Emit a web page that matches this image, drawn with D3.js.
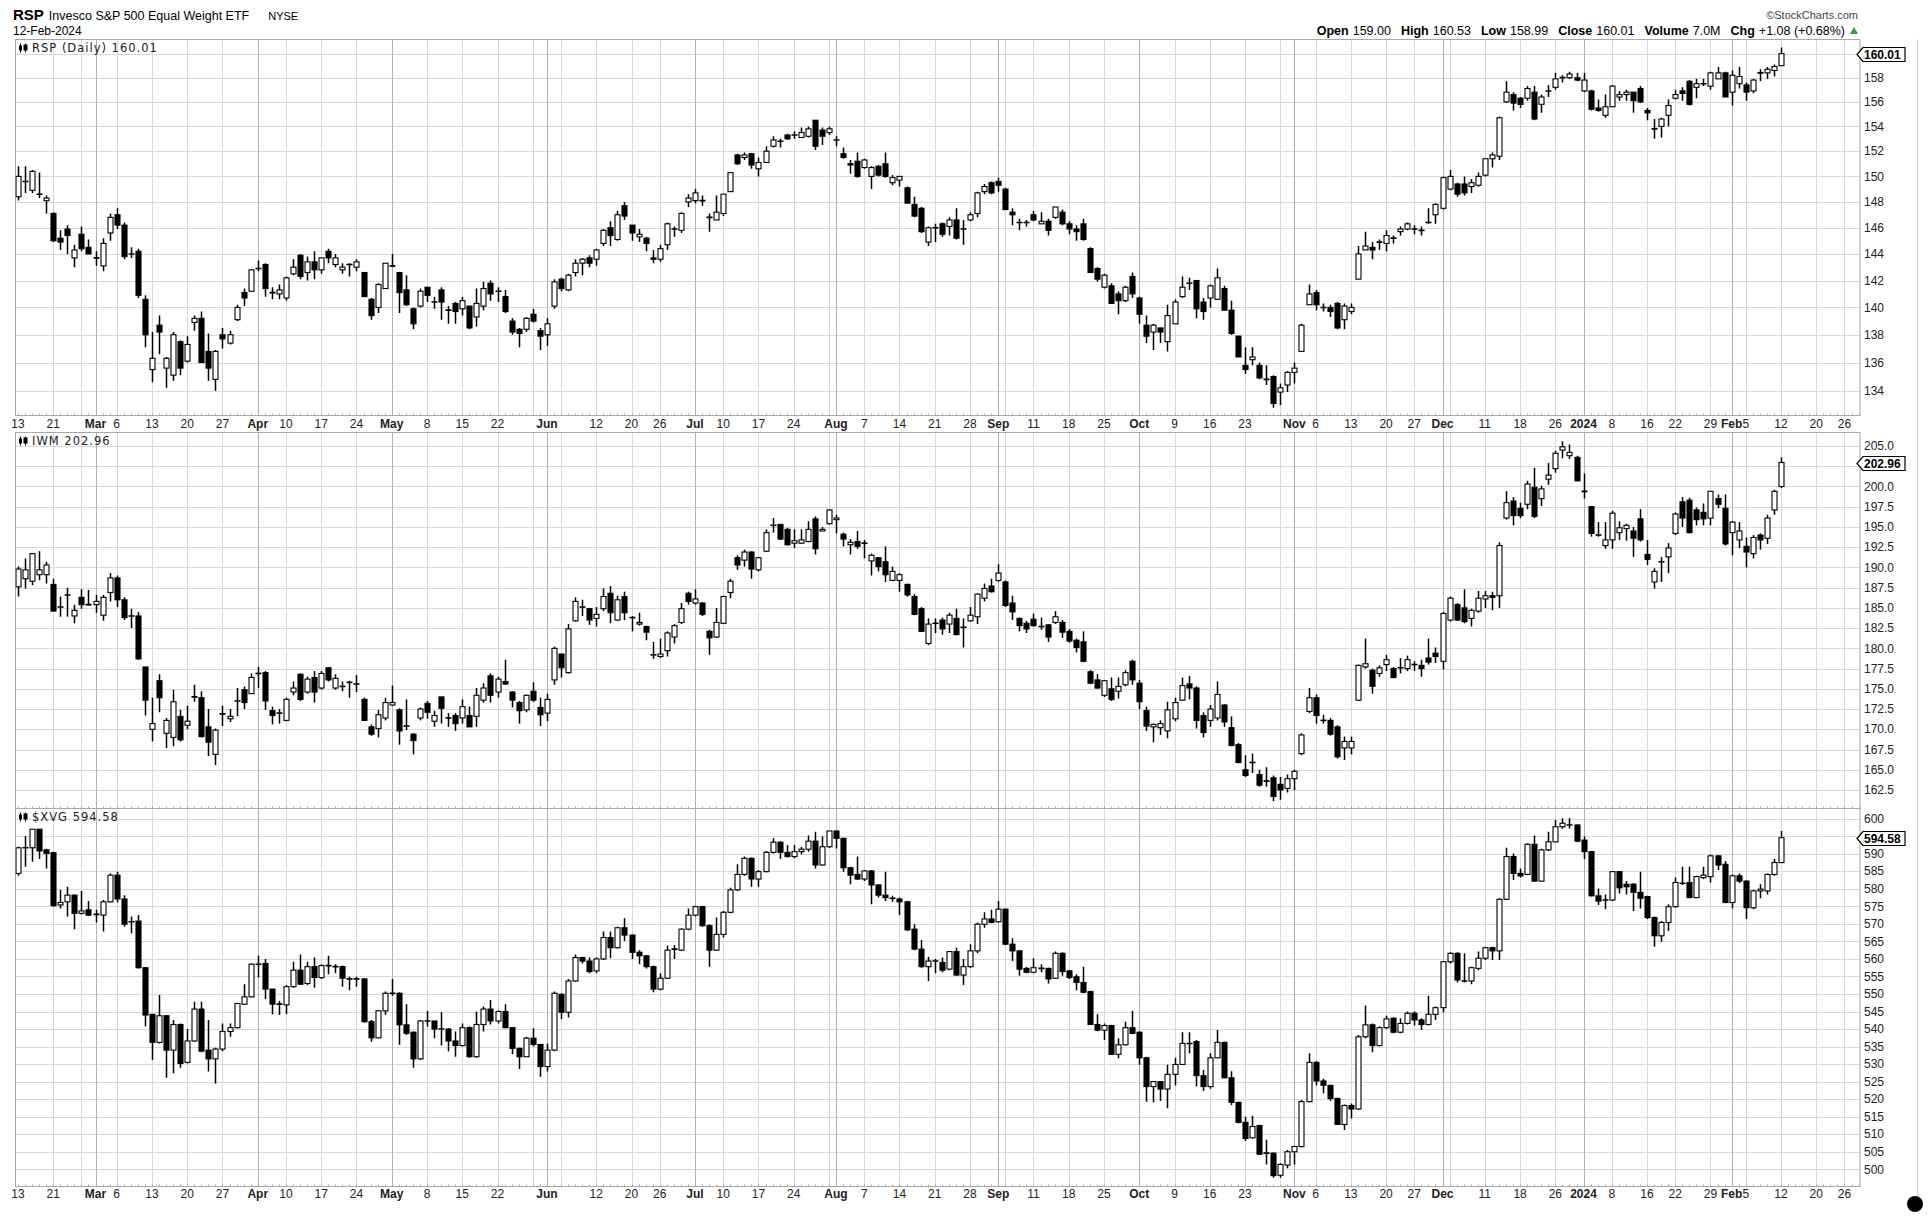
<!DOCTYPE html>
<html><head><meta charset="utf-8">
<script src="https://cdn.jsdelivr.net/npm/d3@7/dist/d3.min.js"></script>
<style>body{margin:0;background:#fff}svg{display:block}</style>
</head><body>
<svg id="chart" width="1928" height="1218"></svg>
<script>
// ---------- calendar ----------
const startDate = "2023-02-13";
const endDate = "2024-02-28";
const holidays = ["2023-02-20","2023-04-07","2023-05-29","2023-06-19","2023-07-04","2023-09-04","2023-11-23","2023-12-25","2024-01-01","2024-01-15","2024-02-19"];

// x-axis tick labels [date, text]
const xLabels = [["2023-02-13","13"],["2023-02-21","21"],["2023-03-01","Mar"],["2023-03-06","6"],["2023-03-13","13"],["2023-03-20","20"],["2023-03-27","27"],["2023-04-03","Apr"],["2023-04-10","10"],["2023-04-17","17"],["2023-04-24","24"],["2023-05-01","May"],["2023-05-08","8"],["2023-05-15","15"],["2023-05-22","22"],["2023-06-01","Jun"],["2023-06-12","12"],["2023-06-20","20"],["2023-06-26","26"],["2023-07-03","Jul"],["2023-07-10","10"],["2023-07-17","17"],["2023-07-24","24"],["2023-08-01","Aug"],["2023-08-07","7"],["2023-08-14","14"],["2023-08-21","21"],["2023-08-28","28"],["2023-09-01","Sep"],["2023-09-11","11"],["2023-09-18","18"],["2023-09-25","25"],["2023-10-02","Oct"],["2023-10-09","9"],["2023-10-16","16"],["2023-10-23","23"],["2023-11-01","Nov"],["2023-11-06","6"],["2023-11-13","13"],["2023-11-20","20"],["2023-11-27","27"],["2023-12-01","Dec"],["2023-12-11","11"],["2023-12-18","18"],["2023-12-26","26"],["2024-01-02","2024"],["2024-01-08","8"],["2024-01-16","16"],["2024-01-22","22"],["2024-01-29","29"],["2024-02-01","Feb"],["2024-02-05","5"],["2024-02-12","12"],["2024-02-20","20"],["2024-02-26","26"]];

// ---------- data: [open, high, low, close] per trading day from 13-Feb-2023 ----------
const rspOHLC = [
[148.4,150.8,148.1,150.0],[149.6,150.8,148.7,149.6],[148.9,150.5,148.7,150.4],[148.6,150.3,148.3,148.6],[148.1,148.5,147.1,148.3],
[147.1,147.2,144.9,145.0],[145.2,145.8,144.3,144.9],[145.9,146.2,144.0,145.4],[143.7,144.7,143.0,144.3],[145.5,146.1,144.2,144.4],
[144.5,145.1,144.0,144.0],[143.7,144.2,143.1,143.7],[143.1,145.2,142.7,144.8],[145.6,147.1,145.0,146.8],[147.0,147.5,145.9,146.2],
[146.2,146.4,143.6,143.8],[144.0,144.5,143.7,144.0],[144.2,144.4,140.7,140.9],[140.6,140.9,137.1,138.0],[135.5,138.2,134.6,136.3],
[138.7,139.4,136.6,138.2],[135.6,136.4,134.2,136.3],[135.1,138.2,134.7,138.0],[137.5,137.6,135.1,135.6],[136.1,137.9,136.0,137.3],
[138.9,139.4,138.3,139.2],[139.2,139.7,136.0,136.0],[136.8,138.1,134.7,135.6],[134.8,136.9,134.0,136.8],[138.0,138.5,137.0,137.7],
[137.4,138.3,137.3,138.0],[139.1,140.2,139.0,140.0],[141.1,141.4,140.1,140.7],[141.2,142.8,141.2,142.8],[142.9,143.5,142.7,142.9],
[143.2,143.3,140.8,141.4],[141.1,141.5,140.6,141.1],[141.0,141.7,140.6,141.3],[140.7,142.3,140.5,142.2],[142.5,143.6,142.4,143.0],
[143.9,144.0,142.1,142.3],[142.6,143.8,142.0,143.4],[143.4,144.2,142.1,142.8],[142.8,143.7,142.5,143.7],[144.2,144.4,143.3,143.7],
[143.2,144.0,143.0,143.7],[142.8,143.3,142.5,143.0],[143.2,143.3,142.3,143.2],[143.0,143.6,142.7,143.4],[142.6,142.6,140.8,140.8],
[140.6,140.7,139.1,139.4],[140.0,141.8,139.6,141.7],[141.4,143.3,141.4,143.3],[143.1,144.0,143.0,143.1],[142.6,142.6,139.6,141.1],
[141.3,142.4,140.1,140.2],[139.9,140.0,138.4,138.8],[140.1,141.4,140.0,141.2],[141.5,141.5,140.4,140.9],[140.4,140.8,139.9,140.4],
[141.3,141.5,139.1,140.4],[139.8,140.1,138.8,139.8],[140.3,140.4,138.8,139.7],[139.9,140.8,139.4,140.5],[140.1,140.1,138.4,138.5],
[139.3,141.4,138.6,140.3],[140.1,141.9,139.8,141.4],[141.8,142.0,140.5,141.0],[141.2,141.5,140.4,141.2],[140.8,141.3,139.6,139.7],
[139.0,139.2,138.0,138.2],[138.4,138.5,137.1,138.1],[138.4,139.3,138.2,139.2],[139.5,139.9,138.9,139.0],[138.3,138.5,136.9,137.9],
[138.0,139.2,137.2,138.8],[140.1,142.1,139.9,141.9],[142.1,142.2,141.2,141.4],[141.3,142.5,141.2,142.4],[142.6,143.6,142.3,143.3],
[143.3,143.7,142.4,143.6],[143.7,143.9,143.0,143.3],[143.6,144.4,143.1,144.3],[144.8,145.9,144.6,145.8],[146.0,146.5,144.6,145.4],
[145.1,147.3,145.0,147.0],[147.7,148.0,146.6,146.9],[146.2,146.2,145.0,145.6],[145.3,145.9,144.9,145.5],[145.2,145.3,144.2,144.8],
[143.7,144.3,143.3,143.6],[143.6,144.7,143.4,144.4],[144.7,146.4,144.3,146.3],[145.9,146.1,145.3,145.9],[145.8,147.2,145.6,147.1],
[148.0,148.6,147.6,148.3],[148.1,149.0,147.9,148.7],[148.1,148.5,147.7,148.1],[146.8,147.1,145.7,146.8],[146.6,148.5,146.6,147.2],
[147.1,148.6,146.9,148.6],[148.8,150.3,148.8,150.3],[151.7,151.8,150.9,151.0],[151.5,151.9,151.3,151.7],[151.8,151.8,150.6,150.9],
[150.6,151.5,150.0,151.1],[151.1,152.4,151.1,152.0],[152.4,153.2,152.3,152.9],[152.8,153.0,152.3,152.8],[153.3,153.4,152.9,153.0],
[153.3,153.6,153.0,153.3],[153.1,153.9,153.1,153.5],[153.2,154.0,153.1,153.8],[154.5,154.5,152.1,152.4],[153.7,153.9,152.5,153.2],
[153.5,154.0,153.3,153.8],[152.9,153.2,152.4,152.9],[151.8,152.3,151.4,151.5],[151.0,151.3,150.2,150.9],[151.2,151.9,149.9,150.0],
[150.7,151.4,150.6,151.3],[150.0,150.8,149.0,150.7],[150.8,150.9,150.0,150.1],[151.0,151.9,149.9,150.0],[149.5,150.1,149.3,149.9],
[149.7,150.0,149.2,150.0],[149.1,149.2,147.9,147.9],[147.8,148.4,146.8,146.9],[147.5,147.6,145.6,145.7],[144.9,146.1,144.6,146.0],
[146.0,146.3,144.9,146.0],[146.3,146.4,145.3,145.5],[146.1,146.8,145.4,146.6],[146.6,147.5,145.1,145.2],[145.9,146.6,144.7,145.9],
[146.6,147.2,146.5,147.0],[147.1,148.8,146.8,148.7],[148.8,149.4,148.6,149.2],[149.5,149.6,148.6,148.7],[149.6,149.9,148.8,149.3],
[149.0,149.1,147.4,147.4],[147.2,147.5,146.2,147.0],[146.4,146.7,145.8,146.4],[146.4,146.6,146.1,146.4],[147.0,147.3,146.5,146.6],
[146.3,147.2,146.3,146.5],[146.5,146.7,145.4,145.8],[146.8,147.6,146.7,147.6],[147.2,147.4,146.2,146.3],[146.3,146.5,145.5,145.9],
[145.9,146.2,145.0,145.7],[146.3,146.7,145.0,145.1],[144.4,144.5,142.6,142.6],[142.9,143.0,141.9,142.1],[141.5,142.5,141.4,142.4],
[141.6,141.8,140.3,140.3],[141.0,141.2,139.5,140.5],[140.5,141.6,140.4,141.5],[142.3,142.6,140.7,141.0],[140.7,140.8,138.8,139.5],
[138.7,139.4,137.4,137.9],[138.2,138.8,136.9,138.7],[138.5,138.5,137.4,138.2],[137.5,140.2,136.8,139.4],[138.8,140.6,138.8,140.4],
[140.8,142.3,140.7,141.5],[141.8,142.2,141.3,141.8],[142.0,142.0,139.2,139.9],[140.4,140.7,139.1,139.7],[140.7,141.7,140.0,141.6],
[140.6,142.9,140.6,142.2],[141.4,141.6,139.8,139.8],[139.8,140.5,138.0,138.1],[137.9,137.9,136.4,136.4],[135.8,137.1,135.2,135.5],
[136.2,137.1,135.8,136.4],[135.8,136.0,134.8,134.9],[134.8,135.8,134.4,134.8],[135.0,135.1,132.8,133.1],[133.9,134.5,133.0,134.2],
[134.4,135.4,133.9,135.3],[135.3,136.0,134.5,135.6],[136.8,138.8,136.8,138.7],[140.2,141.7,140.2,141.0],[141.1,141.3,139.8,140.2],
[140.0,140.3,139.7,140.0],[140.0,140.2,139.3,139.7],[140.3,140.4,138.4,138.5],[139.1,140.3,138.4,140.1],[139.7,140.3,139.5,140.0],
[142.1,144.6,142.1,144.0],[144.3,145.7,144.3,144.6],[144.5,144.9,143.6,144.3],[144.9,145.1,144.3,144.9],[144.8,145.8,144.2,145.4],
[145.2,145.4,144.8,145.2],[145.7,146.1,145.4,145.9],[145.9,146.4,145.8,146.3],[145.9,146.2,145.5,145.9],[145.8,146.1,145.4,145.8],
[146.4,147.5,146.3,146.4],[147.0,147.9,146.3,147.8],[147.5,150.0,147.4,149.9],[149.0,150.5,148.9,150.0],[149.4,149.5,148.4,148.6],
[149.4,150.0,148.5,148.7],[149.2,149.8,148.7,149.5],[149.3,150.3,149.2,150.0],[150.1,151.4,150.0,151.4],[151.4,151.9,150.7,151.7],
[151.6,154.8,151.3,154.7],[156.0,157.7,155.9,156.8],[156.6,156.8,155.3,155.9],[156.3,156.4,155.5,155.8],[156.3,157.3,156.1,157.1],
[156.8,157.3,154.5,154.6],[155.8,156.6,155.1,156.4],[156.9,157.4,156.4,156.9],[157.2,158.4,157.0,157.9],[158.0,158.2,157.6,158.0],
[158.0,158.5,157.9,158.3],[158.0,158.4,157.7,157.8],[156.9,158.4,156.8,157.8],[156.9,157.0,155.3,155.4],[155.5,156.2,155.2,155.3],
[154.9,156.6,154.7,155.6],[155.6,157.4,155.6,157.3],[156.4,156.9,156.1,156.6],[156.6,157.0,156.1,156.8],[156.8,156.8,155.1,156.1],
[157.1,157.3,155.9,156.0],[155.3,155.5,154.5,155.1],[153.8,154.6,153.0,153.8],[154.0,154.7,153.1,154.6],[154.9,156.2,154.0,155.7],
[156.3,157.0,156.2,156.6],[156.9,157.2,156.1,156.7],[157.7,157.8,155.7,155.8],[157.2,157.9,156.3,157.5],[157.5,157.9,157.3,157.5],
[157.3,158.5,157.0,158.4],[157.9,158.9,157.9,158.4],[158.4,158.5,156.4,156.4],[156.8,158.6,155.7,158.2],[157.5,158.9,157.1,158.1],
[157.4,157.6,156.1,156.8],[156.9,157.9,156.7,157.8],[158.4,158.7,157.7,158.4],[158.4,158.9,157.9,158.7],[158.6,159.1,158.1,158.93],
[159.00,160.53,158.99,160.01]];

const iwmOHLC = [
[187.6,190.1,186.4,189.8],[188.6,191.1,187.4,189.7],[188.3,191.7,187.8,191.7],[189.1,192.0,188.4,189.7],[189.1,190.7,188.0,190.3],
[187.9,188.6,184.6,184.6],[185.1,186.4,183.9,185.1],[186.6,187.5,183.9,186.6],[184.0,185.4,183.1,184.7],[186.3,187.3,184.9,185.4],
[185.4,187.2,185.3,185.4],[185.4,186.6,184.4,185.8],[184.1,186.6,183.4,186.3],[186.9,189.3,185.8,188.7],[188.7,189.0,185.1,186.0],
[186.0,186.3,183.5,183.8],[184.0,184.9,182.5,184.0],[184.0,184.5,178.6,178.7],[177.7,177.7,171.7,173.6],[170.0,173.9,168.5,170.7],
[176.0,176.8,172.1,173.9],[169.5,171.4,167.7,171.1],[169.0,174.9,167.9,173.4],[171.6,172.4,168.5,168.7],[170.5,172.9,170.0,171.0],
[174.0,175.5,173.4,174.0],[173.9,174.7,169.0,169.1],[170.3,172.5,166.7,168.4],[166.9,170.1,165.6,169.9],[171.9,172.9,170.4,171.9],
[171.3,172.5,170.9,171.6],[173.5,175.1,171.6,173.5],[174.9,175.3,172.5,173.3],[174.4,176.9,174.4,176.4],[176.9,177.7,175.1,176.9],
[177.0,177.2,172.4,173.5],[172.3,172.8,170.6,171.7],[172.0,172.5,170.7,172.0],[171.1,173.9,171.0,173.7],[174.6,175.9,174.2,175.1],
[176.8,176.9,173.5,173.7],[174.6,176.5,174.4,176.2],[176.4,177.2,173.3,174.6],[175.1,177.2,174.9,176.9],[177.6,177.7,175.9,176.1],
[175.1,176.8,174.9,176.3],[175.3,175.9,174.7,175.3],[175.8,176.0,173.9,175.8],[175.6,176.7,174.6,175.6],[173.7,173.9,171.0,171.1],
[170.3,170.6,169.2,169.4],[170.1,172.4,169.0,171.8],[171.4,173.9,171.1,173.3],[173.0,175.4,172.9,173.3],[172.4,172.6,168.1,169.8],
[170.4,173.7,169.9,170.4],[169.4,169.5,166.9,168.6],[171.4,172.7,171.1,172.5],[173.2,173.5,171.3,172.1],[171.0,172.3,170.3,171.7],
[174.0,174.0,170.7,172.6],[171.4,172.0,170.3,171.4],[171.7,172.0,169.8,170.7],[171.4,173.7,170.7,172.8],[171.7,172.8,170.3,170.3],
[171.6,175.1,170.3,174.2],[173.6,175.7,173.3,175.1],[176.6,176.9,173.3,174.2],[174.6,176.5,173.9,176.2],[175.9,178.6,175.5,175.6],
[174.6,174.7,172.7,173.6],[173.3,173.5,170.7,172.3],[172.4,174.3,172.1,174.2],[174.7,175.8,173.4,173.6],[172.7,173.9,170.4,171.8],
[172.0,174.4,171.0,173.7],[176.1,180.2,175.5,180.0],[179.3,179.3,176.4,177.6],[177.0,183.0,176.9,182.4],[183.4,186.3,183.3,185.8],
[185.1,186.0,184.0,185.1],[184.9,185.0,182.9,183.5],[183.7,185.1,182.7,184.2],[184.9,187.4,184.6,186.4],[186.8,187.7,183.1,184.4],
[183.5,186.5,183.4,186.0],[186.4,187.0,183.5,184.4],[183.8,184.0,182.1,183.8],[183.0,184.4,182.8,183.2],[182.7,182.8,181.0,182.0],
[179.2,180.8,178.7,179.2],[179.0,181.2,178.8,179.3],[179.7,182.1,179.0,181.9],[181.4,183.0,180.6,182.8],[183.2,185.6,183.0,184.9],
[186.8,187.0,185.4,185.8],[185.6,187.3,185.4,186.1],[185.6,185.7,184.0,184.2],[182.1,182.3,179.2,181.3],[181.4,185.0,181.3,183.2],
[183.1,186.5,183.0,186.4],[186.9,188.6,186.2,188.3],[191.2,191.5,189.7,190.3],[190.9,192.2,190.1,191.9],[191.9,192.0,188.6,189.8],
[189.7,191.3,189.5,191.2],[192.0,194.7,191.9,194.3],[195.2,196.1,194.3,195.2],[195.3,195.4,193.4,193.5],[194.7,194.9,192.7,192.8],
[193.0,194.7,192.4,193.3],[193.0,194.7,192.9,193.4],[193.2,195.7,193.1,194.7],[196.0,196.3,191.6,192.3],[194.5,195.0,194.5,194.7],
[195.4,197.2,195.3,197.1],[195.9,196.5,194.2,196.1],[194.1,194.3,192.6,193.5],[192.8,193.5,191.6,193.1],[193.2,194.5,192.3,192.6],
[193.0,193.4,191.1,193.0],[190.8,191.7,189.0,191.5],[191.2,191.3,189.5,190.1],[190.7,192.6,188.2,189.1],[188.4,190.1,188.3,189.5],
[188.4,189.3,187.0,189.1],[187.9,188.0,186.4,186.6],[186.4,186.7,184.1,184.2],[184.9,185.1,182.1,182.1],[180.6,183.7,180.4,183.0],
[183.1,183.7,181.9,183.1],[183.5,183.8,181.7,182.4],[183.0,184.4,181.9,184.1],[183.7,184.9,181.6,181.7],[182.6,183.7,180.1,182.6],
[183.4,185.1,183.3,184.1],[183.9,186.8,183.0,186.7],[186.2,188.0,185.8,187.4],[187.7,188.6,186.9,187.0],[188.4,190.4,188.2,189.3],
[188.2,188.4,185.1,185.3],[185.6,186.5,183.5,184.5],[183.7,183.8,182.1,182.8],[183.1,183.4,181.9,182.4],[183.6,184.3,182.7,182.8],
[182.7,183.8,182.3,182.7],[182.9,183.0,180.8,181.4],[183.2,184.6,183.0,183.9],[183.2,183.5,181.3,182.0],[182.1,182.4,180.7,180.9],
[181.0,181.2,179.5,180.1],[180.8,182.1,178.3,178.4],[177.1,177.3,175.6,175.7],[176.1,176.8,175.0,175.1],[174.2,176.1,174.0,176.0],
[175.0,176.4,173.5,173.7],[174.7,176.4,173.8,175.3],[175.5,177.3,175.3,177.0],[178.4,178.6,175.5,176.1],[175.7,176.1,172.5,173.4],
[172.3,172.8,169.8,170.4],[170.3,170.7,168.4,170.6],[170.2,171.1,169.3,170.7],[169.8,173.4,168.9,172.4],[171.3,173.9,171.0,173.3],
[173.6,176.4,173.5,175.4],[175.6,176.6,173.7,175.1],[175.1,175.3,170.1,171.1],[171.7,172.1,169.0,169.6],[171.1,173.0,170.3,172.5],
[171.4,175.9,171.1,174.3],[173.0,173.1,170.3,170.9],[170.2,171.6,167.9,168.0],[168.1,168.3,165.8,165.9],[165.0,166.8,164.1,164.3],
[165.9,167.0,164.6,165.9],[164.4,165.0,162.9,163.1],[163.6,165.3,162.9,163.6],[164.0,164.3,161.1,161.7],[163.2,164.1,161.3,162.5],
[162.7,164.4,162.2,163.9],[163.9,165.0,162.5,164.8],[167.0,169.5,166.8,169.3],[172.2,175.1,172.0,173.9],[173.9,174.3,170.7,171.7],
[171.1,171.8,170.7,171.1],[171.1,171.4,169.2,169.4],[170.3,170.5,166.4,166.6],[167.7,169.1,166.2,168.5],[167.7,169.1,166.9,168.5],
[173.6,178.0,173.5,177.9],[177.7,181.2,177.5,178.1],[177.3,177.5,174.4,175.3],[176.9,177.9,176.5,177.6],[178.0,179.2,177.2,178.6],
[177.5,177.7,176.3,176.4],[177.6,178.8,176.9,177.6],[177.5,179.1,177.2,178.6],[178.0,178.4,177.2,178.0],[177.9,178.6,176.5,177.5],
[178.8,181.2,178.0,178.3],[179.4,180.1,178.2,179.0],[178.4,184.5,177.4,184.3],[183.5,186.4,183.3,186.2],[185.4,185.6,183.4,183.5],
[185.0,187.3,183.1,183.3],[183.7,184.9,182.7,184.7],[184.6,187.1,184.4,186.2],[186.1,187.1,185.0,186.5],[186.5,187.0,184.7,186.3],
[186.5,193.1,185.0,192.7],[196.1,199.4,195.9,198.0],[198.2,198.7,195.2,196.4],[197.3,198.0,196.1,196.4],[197.8,200.7,197.2,200.3],
[199.9,202.3,196.1,196.3],[198.5,200.1,197.6,199.7],[200.9,202.9,200.2,201.4],[202.2,204.4,201.7,204.1],[204.5,205.6,203.5,204.9],
[203.8,205.2,203.4,204.2],[203.6,203.8,200.6,200.7],[199.4,201.6,198.5,199.4],[197.5,197.6,193.8,194.2],[194.0,195.6,193.8,194.0],
[192.7,195.6,192.3,193.4],[193.4,197.0,192.3,196.7],[194.3,195.7,193.4,194.9],[194.8,195.4,193.3,195.2],[194.5,195.0,191.3,193.6],
[196.0,197.2,193.2,193.4],[191.6,193.4,190.3,191.0],[188.2,189.9,187.4,189.5],[190.7,191.3,188.2,190.7],[191.3,193.0,189.3,192.4],
[194.2,196.8,194.0,196.6],[198.1,198.7,195.0,196.1],[198.3,198.6,194.2,194.3],[197.1,197.4,195.2,195.9],[196.8,197.9,195.2,196.0],
[196.1,199.4,195.2,199.4],[198.5,199.0,197.3,197.8],[197.3,199.0,192.7,192.9],[194.3,195.7,191.5,195.6],[193.4,195.6,192.4,194.5],
[192.6,193.7,190.0,191.9],[191.7,194.0,191.1,193.7],[194.0,194.2,192.2,193.4],[193.6,196.5,192.9,196.1],[197.1,199.6,196.5,199.4],
[200.0,203.6,199.8,202.96]];

const xvgOHLC = [
[584.4,592.0,583.7,591.7],[591.7,595.0,586.3,591.7],[591.7,597.0,587.7,597.0],[597.0,597.0,588.5,590.8],[591.1,591.4,585.8,590.1],
[590.3,590.6,574.9,575.2],[575.4,579.7,574.4,576.1],[576.3,580.6,572.1,578.2],[578.2,578.4,568.5,573.0],[573.0,579.4,572.7,573.7],
[574.0,576.5,572.3,572.5],[572.7,574.0,570.4,572.7],[572.5,576.8,567.8,576.3],[576.3,584.4,576.1,583.9],[583.9,584.9,576.1,577.1],
[577.1,578.2,569.2,569.9],[570.6,572.1,567.3,570.6],[570.8,572.5,557.3,557.5],[557.5,557.5,540.7,544.0],[544.2,544.2,531.2,536.2],
[536.2,549.7,535.9,543.8],[543.8,544.0,526.1,534.0],[534.0,542.6,527.4,541.3],[541.3,541.6,529.0,530.2],[530.5,540.0,530.2,536.6],
[536.6,547.8,536.4,545.7],[545.7,547.8,533.4,533.7],[534.0,542.6,527.9,531.5],[531.5,534.7,524.5,534.3],[534.3,541.6,533.7,539.3],
[539.3,541.6,537.8,540.4],[540.4,547.3,540.2,547.3],[547.1,552.8,546.9,549.2],[549.2,558.7,549.0,558.5],[558.5,560.9,554.7,558.5],
[558.7,560.0,548.6,551.4],[551.4,551.4,544.2,547.1],[547.1,548.0,544.0,547.1],[546.9,552.6,544.2,552.1],[552.1,559.2,551.8,556.8],
[556.8,561.3,552.6,552.8],[553.0,559.2,552.6,557.8],[557.8,560.4,551.8,554.7],[554.7,558.5,554.3,558.1],[558.1,560.9,555.6,558.1],
[557.8,558.5,555.9,557.8],[557.8,558.1,552.1,554.5],[554.3,554.9,551.1,554.3],[554.3,554.9,552.1,554.3],[554.3,554.5,541.9,542.1],
[542.1,542.6,536.4,537.5],[537.5,545.4,537.4,545.2],[545.2,550.7,544.0,550.2],[550.2,554.3,549.5,550.2],[550.2,550.5,535.5,541.2],
[541.2,547.1,538.3,538.8],[539.1,539.3,529.0,531.5],[531.5,542.6,531.2,542.3],[542.3,545.2,540.7,542.3],[542.3,542.3,537.4,540.0],
[540.0,544.8,535.3,540.0],[540.0,540.2,533.7,536.6],[536.6,539.3,532.1,535.3],[535.3,541.6,535.0,540.4],[540.4,540.7,531.8,532.1],
[532.1,545.0,531.8,541.3],[541.3,546.4,539.3,545.7],[545.7,548.3,541.3,542.3],[542.3,545.4,541.6,545.0],[545.0,547.1,540.2,540.4],
[540.4,540.4,532.8,534.5],[534.5,534.7,528.6,532.1],[532.1,537.8,532.1,537.4],[537.4,540.2,535.0,535.6],[535.6,535.6,526.4,529.3],
[529.3,535.9,527.9,534.0],[534.0,550.7,533.7,550.2],[549.9,550.2,542.9,544.8],[544.8,554.3,543.3,553.7],[553.7,561.3,553.5,560.4],
[560.4,560.6,558.7,559.4],[559.4,560.4,555.9,556.4],[556.6,560.4,555.9,560.0],[560.0,567.8,559.7,566.1],[566.1,567.8,560.2,563.2],
[563.2,569.2,563.0,568.9],[568.9,571.6,565.1,566.8],[566.8,567.0,560.0,561.9],[561.9,562.5,558.5,560.9],[560.9,561.1,557.3,557.8],
[557.8,558.1,550.5,551.4],[551.4,555.9,551.1,554.5],[554.5,563.8,554.3,562.5],[562.8,564.0,560.0,562.8],[562.5,568.7,562.3,568.5],
[568.5,574.4,568.2,572.5],[572.5,575.2,572.1,574.9],[574.9,575.2,569.2,569.5],[569.5,569.9,557.8,562.5],[562.5,571.8,562.3,567.0],
[567.0,573.7,566.1,573.3],[573.3,580.3,573.0,579.7],[579.7,587.0,579.4,584.1],[584.1,589.2,583.7,588.7],[588.7,588.9,580.6,582.8],
[582.8,585.4,580.6,584.9],[584.9,590.8,584.7,590.4],[590.4,594.4,590.1,593.3],[593.3,593.6,588.5,590.4],[590.4,592.5,588.9,589.2],
[589.2,592.5,588.7,590.6],[590.6,592.0,589.8,591.3],[591.3,595.2,590.6,593.6],[593.6,596.3,585.8,586.8],[586.8,594.9,586.6,592.0],
[592.0,596.5,591.7,596.5],[596.5,596.5,591.5,594.4],[594.4,594.6,584.9,586.0],[586.0,586.3,581.3,583.9],[584.1,589.2,582.5,582.8],
[582.8,585.4,582.2,585.1],[585.1,585.4,575.6,581.1],[581.1,581.3,577.5,578.2],[578.2,584.9,576.5,577.5],[577.3,578.0,576.3,577.3],
[577.1,577.5,572.5,576.3],[576.3,576.5,568.0,568.3],[568.5,569.9,562.5,562.8],[562.8,565.4,557.5,557.8],[557.8,560.6,553.7,559.4],
[559.4,560.0,555.9,559.4],[559.0,560.4,556.2,556.8],[557.1,562.3,556.8,562.1],[562.1,563.2,555.2,555.4],[555.4,560.0,552.6,557.8],
[557.8,564.2,557.5,562.3],[562.3,570.4,561.6,569.9],[569.9,573.3,568.9,571.4],[571.4,574.0,570.2,570.4],[570.6,576.5,570.4,574.2],
[574.2,574.4,564.0,564.2],[564.2,565.9,559.4,562.3],[562.3,562.5,555.2,557.1],[557.3,557.8,555.9,556.2],[556.2,560.2,555.9,557.5],
[557.3,558.5,556.2,557.3],[557.3,557.5,553.0,554.3],[554.5,562.1,554.3,561.6],[561.6,561.9,555.2,556.4],[556.6,556.8,554.3,554.7],
[554.9,555.6,551.1,553.3],[553.3,557.8,550.2,550.5],[550.7,550.9,541.2,541.3],[541.3,544.2,539.4,539.7],[539.7,541.6,536.9,541.0],
[541.0,541.2,532.6,532.8],[532.8,537.4,531.7,535.5],[535.5,542.1,535.3,540.4],[540.4,545.2,538.5,538.8],[539.1,539.3,529.8,531.8],
[531.8,532.1,519.3,523.6],[523.6,525.2,519.1,525.0],[525.0,525.2,519.5,522.9],[522.9,529.8,517.4,527.1],[527.1,531.8,523.9,529.9],
[529.9,539.1,529.8,535.9],[535.9,539.1,533.1,535.9],[536.4,536.9,523.6,526.7],[526.7,528.3,522.3,523.6],[523.6,533.1,523.0,531.8],
[531.8,539.7,531.7,536.2],[536.2,536.4,526.0,526.1],[526.1,528.0,518.3,519.1],[519.1,519.3,513.1,513.4],[513.4,515.0,508.1,508.8],
[509.0,515.3,508.8,512.2],[512.5,512.6,504.1,504.3],[504.6,508.4,501.4,504.6],[504.6,504.8,497.6,498.2],[498.3,501.7,497.6,501.4],
[501.2,505.5,500.3,505.0],[505.0,506.7,501.4,506.5],[506.5,519.8,506.2,519.3],[519.3,533.1,519.1,530.5],[530.5,530.9,523.9,525.2],
[525.2,525.8,521.7,524.0],[523.9,524.2,519.5,520.2],[520.2,520.4,512.6,512.8],[512.8,518.5,511.2,518.2],[518.2,518.8,514.5,517.2],
[517.2,538.3,516.9,537.8],[537.8,546.7,537.4,541.2],[541.2,541.6,533.4,535.3],[535.3,540.7,535.0,540.4],[540.4,543.8,540.0,542.9],
[543.1,543.3,538.8,539.1],[539.1,543.1,538.8,541.6],[541.6,545.0,541.3,544.5],[544.5,545.0,541.0,542.6],[542.6,543.1,539.7,541.3],
[541.3,549.5,541.0,544.2],[544.2,546.4,542.6,546.1],[546.1,559.4,544.8,559.2],[559.2,561.9,558.7,561.6],[561.6,561.9,553.3,554.0],
[554.0,561.6,553.3,553.7],[553.7,557.8,552.8,557.5],[557.3,562.1,556.8,560.2],[560.2,563.5,559.7,563.2],[563.2,563.5,559.7,562.3],
[562.3,577.3,559.7,577.0],[577.0,591.7,576.8,589.2],[589.2,590.1,582.5,584.4],[584.4,585.8,583.2,583.7],[584.1,593.0,583.9,592.7],
[592.7,595.2,582.0,582.2],[582.2,591.4,582.0,591.1],[591.1,596.3,590.8,593.4],[593.4,599.6,593.3,597.7],[597.7,600.1,597.1,598.7],
[598.2,600.1,597.2,598.2],[598.2,598.4,593.3,593.6],[593.9,594.9,588.5,590.6],[590.6,590.8,577.8,578.0],[578.0,580.1,575.4,576.5],
[576.8,578.4,574.2,576.8],[576.8,585.1,576.5,584.9],[584.9,585.1,578.7,580.3],[581.3,582.2,578.4,580.6],[581.3,581.6,573.7,579.0],
[579.0,584.9,574.4,577.3],[577.8,578.0,571.4,571.8],[571.8,572.1,563.5,566.6],[566.6,570.8,564.9,570.4],[570.4,575.6,568.0,574.9],
[574.9,583.2,574.6,581.8],[581.8,586.3,581.1,581.6],[581.8,586.3,577.3,577.5],[577.5,583.7,577.3,583.5],[583.2,586.3,582.8,583.9],
[583.5,589.8,581.8,589.4],[589.4,589.6,585.4,586.8],[587.0,587.9,575.9,576.1],[576.1,584.1,574.4,583.7],[583.7,584.4,581.6,582.2],
[582.2,582.5,571.4,574.6],[574.6,579.7,574.2,579.4],[579.4,581.3,577.3,579.9],[579.4,584.4,578.4,584.1],[584.1,588.5,583.7,587.5],
[587.5,596.5,587.3,594.58]];

// y-axis tick values
const rspTicks = [134,136,138,140,142,144,146,148,150,152,154,156,158,160];
const iwmTicks = [162.5,165,167.5,170,172.5,175,177.5,180,182.5,185,187.5,190,192.5,195,197.5,200,202.5,205];
const xvgTicks = [500,505,510,515,520,525,530,535,540,545,550,555,560,565,570,575,580,585,590,595,600];

const headerStats = [["Open","159.00"],["High","160.53"],["Low","158.99"],["Close","160.01"],["Volume","7.0M"],["Chg","+1.08 (+0.68%)"]];

// ---------- build trading-day axis ----------
const hol = new Set(holidays);
const days = [];
for (let d = new Date(startDate+"T00:00:00Z"); d <= new Date(endDate+"T00:00:00Z"); d = new Date(d.getTime()+86400000)) {
  const wd = d.getUTCDay(); const s = d.toISOString().slice(0,10);
  if (wd === 0 || wd === 6 || hol.has(s)) continue;
  days.push(d);
}
const idxOf = new Map(days.map((d,i)=>[d.toISOString().slice(0,10), i]));

const svg = d3.select("#chart");
const FONT = "'Liberation Sans', Arial, sans-serif";
const left = 15.5, right = 1860;
const x = d3.scaleLinear().domain([-0.35, 261.2]).range([left, right]);

const panels = [
  {name:"rsp", data:rspOHLC, top:39.5, bottom:415.5, y:d3.scaleLog().domain([134,158]).range([390.67,77.67]), ticks:rspTicks, fmt:d3.format("d"), label:"RSP (Daily) 160.01", last:"160.01", lastVal:160.01},
  {name:"iwm", data:iwmOHLC, top:432.5, bottom:808.5, y:d3.scaleLinear().domain([162.5,205]).range([790,446]), ticks:iwmTicks, fmt:d3.format(".1f"), label:"IWM 202.96", last:"202.96", lastVal:202.96},
  {name:"xvg", data:xvgOHLC, top:808.5, bottom:1186.5, y:d3.scaleLinear().domain([500,600]).range([1169.3,818.7]), ticks:xvgTicks, fmt:d3.format("d"), label:"$XVG 594.58", last:"594.58", lastVal:594.58}
];

// outer right frame line
svg.append("line").attr("x1",1917.5).attr("x2",1917.5).attr("y1",39).attr("y2",1205).attr("stroke","#d0d0d0");

panels.forEach((p,pi)=>{
  const g = svg.append("g");
  const clipId = "clip"+pi;
  svg.append("defs").append("clipPath").attr("id",clipId).append("rect")
    .attr("x",left).attr("y",p.top).attr("width",right-left).attr("height",p.bottom-p.top);

  // horizontal grid
  g.selectAll(".hg").data(p.ticks.filter(t=>p.y(t)>p.top+1 && p.y(t)<p.bottom-1)).join("line")
    .attr("x1",left).attr("x2",right)
    .attr("y1",t=>Math.round(p.y(t))+0.5).attr("y2",t=>Math.round(p.y(t))+0.5)
    .attr("stroke","#d8d8d8").attr("stroke-width",1);

  // vertical grid: week starts and month starts
  days.forEach((d,i)=>{
    if (i===0) return;
    const prev = days[i-1];
    const monthStart = d.getUTCMonth() !== prev.getUTCMonth();
    const weekStart = d.getUTCDay() <= prev.getUTCDay();
    if (!monthStart && !weekStart) return;
    const xx = Math.round(x(i))+0.5;
    g.append("line").attr("x1",xx).attr("x2",xx).attr("y1",p.top).attr("y2",p.bottom)
      .attr("stroke", monthStart ? "#b0b0b0" : "#d8d8d8").attr("stroke-width",1);
  });

  // small day ticks along the bottom
  g.selectAll(".dt").data(days).join("line")
    .attr("x1",(d,i)=>Math.round(x(i))+0.5).attr("x2",(d,i)=>Math.round(x(i))+0.5)
    .attr("y1",p.bottom-2).attr("y2",p.bottom).attr("stroke","#aaa");

  // panel frame
  g.append("rect").attr("x",left).attr("y",p.top).attr("width",right-left).attr("height",p.bottom-p.top)
    .attr("fill","none").attr("stroke","#a8a8a8").attr("stroke-width",1);

  // y-axis labels
  const tagY = p.y(p.lastVal);
  g.selectAll(".yl").data(p.ticks.filter(t=>{const yy=p.y(t); return yy>p.top-2 && yy<p.bottom-4 && Math.abs(yy-tagY)>11;})).join("text")
    .attr("x",1864).attr("y",t=>p.y(t)).attr("dy","0.35em")
    .attr("font-family",FONT).attr("font-size",12).attr("fill","#222").text(t=>p.fmt(t));

  // candles
  const cg = g.append("g").attr("clip-path",`url(#${clipId})`);
  p.data.forEach((v,i)=>{
    const [o,h0,l0,c] = v;
    const h = Math.max(h0,o,c), l = Math.min(l0,o,c);
    const xc = Math.round(x(i));
    cg.append("line").attr("x1",xc+0.5).attr("x2",xc+0.5)
      .attr("y1",p.y(h)).attr("y2",p.y(l)).attr("stroke","#000").attr("stroke-width",1.5);
    const yo = p.y(o), yc = p.y(c);
    const top = Math.min(yo,yc), ht = Math.abs(yo-yc);
    if (ht < 1.2) {
      cg.append("line").attr("x1",xc-2.5).attr("x2",xc+3.5).attr("y1",yc).attr("y2",yc)
        .attr("stroke","#000").attr("stroke-width",1.6);
    } else {
      cg.append("rect").attr("x",xc-2).attr("y",top).attr("width",5).attr("height",ht)
        .attr("fill", c>=o ? "#fff" : "#000").attr("stroke","#000").attr("stroke-width",1.1);
    }
  });

  // last value tag
  const ty = Math.round(tagY)+0.5;
  g.append("path").attr("d",`M1857,${ty} L1863,${ty-7} L1905,${ty-7} L1905,${ty+7} L1863,${ty+7} Z`)
    .attr("fill","#fff").attr("stroke","#000").attr("stroke-width",1.2);
  g.append("text").attr("x",1864).attr("y",ty).attr("dy","0.36em")
    .attr("font-family",FONT).attr("font-size",12).attr("font-weight","bold").attr("fill","#000").text(p.last);

  // panel label with candle icon
  const ly = p.top + 8.5;
  const icon = g.append("g").attr("transform",`translate(19,${ly-4.5})`);
  icon.append("line").attr("x1",1.5).attr("x2",1.5).attr("y1",0).attr("y2",9).attr("stroke","#000");
  icon.append("rect").attr("x",0).attr("y",2).attr("width",3).attr("height",5).attr("fill","#000");
  icon.append("line").attr("x1",6.5).attr("x2",6.5).attr("y1",0).attr("y2",9).attr("stroke","#000");
  icon.append("rect").attr("x",5).attr("y",1.5).attr("width",3).attr("height",5).attr("fill","#000").attr("stroke","#000");
  g.append("text").attr("x",32).attr("y",ly).attr("dy","0.35em")
    .attr("font-family","'DejaVu Sans', sans-serif").attr("font-size",11.5).attr("letter-spacing","1px")
    .attr("fill","#222").text(p.label);
});

// x-axis labels (under panel 1 and under panel 3)
[424, 1194].forEach(yy=>{
  svg.append("g").selectAll("text").data(xLabels.filter(l=>idxOf.has(l[0]))).join("text")
    .attr("x",l=>x(idxOf.get(l[0]))).attr("y",yy).attr("dy","0.35em")
    .attr("text-anchor","middle").attr("font-family",FONT).attr("font-size",12)
    .attr("font-weight",l=>/^\d+$/.test(l[1]) && l[1].length<4 ? "normal" : "bold")
    .attr("fill","#222").text(l=>l[1]);
});

// ---------- header ----------
const hdr = svg.append("text").attr("x",13).attr("y",20).attr("font-family",FONT).attr("fill","#000");
hdr.append("tspan").attr("font-size",15).attr("font-weight","bold").text("RSP");
hdr.append("tspan").attr("font-size",12.5).attr("dx",5).text("Invesco S\u0026P 500 Equal Weight ETF");
hdr.append("tspan").attr("font-size",11).attr("dx",19).text("NYSE");
svg.append("text").attr("x",13).attr("y",35).attr("font-family",FONT).attr("font-size",12).attr("fill","#000").text("12-Feb-2024");

svg.append("text").attr("x",1858).attr("y",19).attr("text-anchor","end").attr("font-family",FONT)
  .attr("font-size",11).attr("fill","#444").text("\u00A9StockCharts.com");

const st = svg.append("text").attr("x",1845).attr("y",35).attr("text-anchor","end").attr("font-family",FONT).attr("font-size",12.5).attr("fill","#000");
headerStats.forEach((s,i)=>{
  st.append("tspan").attr("font-weight","bold").attr("dx", i===0?0:10).text(s[0]);
  st.append("tspan").attr("dx",4).text(s[1]);
});
svg.append("path").attr("d","M1850,34 L1854,27 L1858,34 Z").attr("fill","#2e9e3e");

// corner dot
svg.append("circle").attr("cx",1915).attr("cy",1204).attr("r",8).attr("fill","#000");
</script>
</body></html>
